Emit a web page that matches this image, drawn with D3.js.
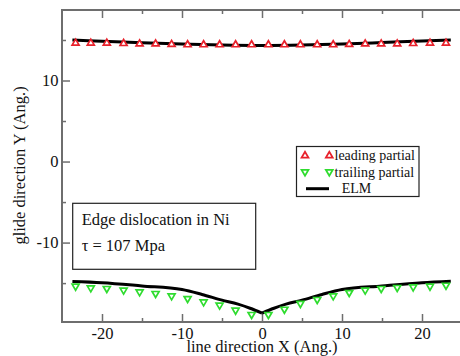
<!DOCTYPE html>
<html>
<head>
<meta charset="utf-8">
<script src="https://cdn.jsdelivr.net/npm/d3@7"></script>
<style>
  html, body { margin: 0; padding: 0; background: #fff; }
  svg { display: block; }
  text { font-family: "Liberation Serif", "Times New Roman", serif; fill: #111; }
</style>
</head>
<body>
<svg id="chart" width="460" height="356"></svg>
<script>
// Sampled positions along the line direction (Ang.)
const partialX = [-23.3, -21.4, -19.4, -17.3, -15.3, -13.3, -11.3, -9.3, -7.3, -5.3, -3.3, -1.3,
                  0.8, 2.8, 4.8, 6.9, 8.9, 10.9, 12.9, 14.9, 16.9, 18.9, 21.0, 23.0];
// Leading partial positions in the glide direction
const leadingY = [14.7, 14.7, 14.7, 14.65, 14.6, 14.6, 14.55, 14.5, 14.5, 14.5, 14.5, 14.5,
                  14.5, 14.5, 14.5, 14.5, 14.5, 14.55, 14.6, 14.6, 14.6, 14.65, 14.7, 14.7];
// Trailing partial positions in the glide direction
const trailingY = [-15.47, -15.68, -15.75, -15.96, -16.17, -16.37, -16.67, -16.99, -17.41, -17.81, -18.43, -18.96,
                   -18.96, -18.31, -17.6, -17.11, -16.67, -16.25, -15.96, -15.75, -15.63, -15.56, -15.47, -15.35];
// ELM model curves
const elmUpperX = [-23.7, -20, -15, -10, -5, 0, 5, 10, 15, 20, 23.6];
const elmUpperY = [15.0, 14.85, 14.65, 14.5, 14.38, 14.33, 14.38, 14.5, 14.68, 14.88, 15.0];
const elmLowerX = [-23.7, -20, -15, -10, -7.5, -5, -3, -1.5, 0, 1.5, 3, 5, 7.5, 10, 15, 20, 23.6];
const elmLowerY = [-14.8, -14.95, -15.35, -15.8, -16.4, -17.1, -17.6, -18.1, -18.7, -18.1, -17.6, -17.1, -16.4, -15.8, -15.35, -14.95, -14.77];

const xMajorTicks = [-20, -10, 0, 10, 20];
const xMinorTicks = [-15, -5, 5, 15];
const yMajorTicks = [-10, 0, 10];
const yMinorTicks = [-15, -5, 5, 15];

const seriesLabels = ["leading partial", "trailing partial", "ELM"];
const noteLines = ["Edge dislocation in Ni", "\u03c4 = 107 Mpa"];

const RED = "#e8212b", GREEN = "#2fdc2f", FRAME = "#6e6e6e";

const svg = d3.select("#chart");
const plot = { left: 62, right: 462, top: 10, bottom: 322 };

const x = d3.scaleLinear().domain([-25, 25]).range([plot.left, plot.right]);
const y = d3.scaleLinear().domain([-19.8, 18.7]).range([plot.bottom, plot.top]);

// tick helpers
function styleAxis(g) {
  g.select(".domain").remove();
  g.selectAll(".tick line").attr("stroke", FRAME).attr("stroke-width", 1.5);
  g.selectAll(".tick text").attr("font-size", 16.5).attr("fill", "#111")
    .style("font-family", "'Liberation Serif', serif");
}
const fmt = d => String(d);

svg.append("g").attr("transform", `translate(0,${plot.bottom})`)
  .call(d3.axisBottom(x).tickValues(xMajorTicks).tickSize(-8).tickPadding(5.3).tickFormat(fmt))
  .call(styleAxis);
svg.append("g").attr("transform", `translate(0,${plot.bottom})`)
  .call(d3.axisBottom(x).tickValues(xMinorTicks).tickSize(-4).tickFormat(""))
  .call(styleAxis);
svg.append("g").attr("transform", `translate(0,${plot.top})`)
  .call(d3.axisTop(x).tickValues(xMajorTicks).tickSize(-8).tickFormat(""))
  .call(styleAxis);
svg.append("g").attr("transform", `translate(0,${plot.top})`)
  .call(d3.axisTop(x).tickValues(xMinorTicks).tickSize(-4).tickFormat(""))
  .call(styleAxis);
svg.append("g").attr("transform", `translate(${plot.left},0)`)
  .call(d3.axisLeft(y).tickValues(yMajorTicks).tickSize(-8).tickPadding(3.5).tickFormat(fmt))
  .call(styleAxis);
svg.append("g").attr("transform", `translate(${plot.left},0)`)
  .call(d3.axisLeft(y).tickValues(yMinorTicks).tickSize(-4).tickFormat(""))
  .call(styleAxis);

// frame
svg.append("rect")
  .attr("x", plot.left).attr("y", plot.top)
  .attr("width", plot.right - plot.left).attr("height", plot.bottom - plot.top)
  .attr("fill", "none").attr("stroke", FRAME).attr("stroke-width", 2);

// axis titles
svg.append("text")
  .attr("x", 262).attr("y", 351.5)
  .attr("text-anchor", "middle").attr("font-size", 16.5)
  .text("line direction X (Ang.)");
svg.append("text")
  .attr("transform", "translate(24.5,165.5) rotate(-90)")
  .attr("text-anchor", "middle").attr("font-size", 16.5)
  .text("glide direction Y (Ang.)");

// ELM curves
const line = d3.line().x(d => x(d[0])).y(d => y(d[1])).curve(d3.curveMonotoneX);
const upper = elmUpperX.map((v, i) => [v, elmUpperY[i]]);
const lower = elmLowerX.map((v, i) => [v, elmLowerY[i]]);
const cusp = elmLowerY.indexOf(d3.min(elmLowerY));
const elmSegments = [upper, lower.slice(0, cusp + 1), lower.slice(cusp)];
svg.append("g").selectAll("path").data(elmSegments).join("path")
  .attr("d", line).attr("fill", "none")
  .attr("stroke", "#000").attr("stroke-width", 3).attr("stroke-linejoin", "round");

// triangle markers
const upTri = "M0,-3.3L3.5,2.7L-3.5,2.7Z";
const downTri = "M0,3.3L3.5,-2.7L-3.5,-2.7Z";

svg.append("g").selectAll("path").data(partialX.map((v, i) => [v, leadingY[i]])).join("path")
  .attr("d", upTri)
  .attr("transform", d => `translate(${x(d[0])},${y(d[1])})`)
  .attr("fill", "#fff").attr("stroke", RED).attr("stroke-width", 1.7);
svg.append("g").selectAll("path").data(partialX.map((v, i) => [v, trailingY[i]])).join("path")
  .attr("d", downTri)
  .attr("transform", d => `translate(${x(d[0])},${y(d[1])})`)
  .attr("fill", "#fff").attr("stroke", GREEN).attr("stroke-width", 1.7);

// legend
const legend = svg.append("g");
legend.append("rect")
  .attr("x", 296.5).attr("y", 146.5).attr("width", 122.5).attr("height", 50)
  .attr("fill", "#fff").attr("stroke", "#222").attr("stroke-width", 1.2);
const rows = [
  { label: seriesLabels[0], shape: upTri, color: RED, cy: 155 },
  { label: seriesLabels[1], shape: downTri, color: GREEN, cy: 172.5 },
  { label: seriesLabels[2], shape: null, color: "#000", cy: 188.7 }
];
rows.forEach(r => {
  if (r.shape) {
    [305, 329.3].forEach(sx => {
      legend.append("path").attr("d", r.shape)
        .attr("transform", `translate(${sx},${r.cy})`)
        .attr("fill", "#fff").attr("stroke", r.color).attr("stroke-width", 1.7);
    });
    legend.append("text").attr("x", 334.5).attr("y", r.cy + 4.6)
      .attr("font-size", 14).text(r.label);
  } else {
    legend.append("line").attr("x1", 306).attr("x2", 329).attr("y1", r.cy).attr("y2", r.cy)
      .attr("stroke", "#000").attr("stroke-width", 3);
    legend.append("text").attr("x", 341.7).attr("y", r.cy + 4.6)
      .attr("font-size", 14).text(r.label);
  }
});

// annotation box
const note = svg.append("g");
note.append("rect")
  .attr("x", 72.7).attr("y", 203.3).attr("width", 183).attr("height", 66)
  .attr("fill", "#fff").attr("stroke", "#222").attr("stroke-width", 1.2);
note.selectAll("text").data(noteLines).join("text")
  .attr("x", 81.7).attr("y", (d, i) => 225 + i * 26)
  .attr("font-size", 16.5).text(d => d);
</script>
</body>
</html>
